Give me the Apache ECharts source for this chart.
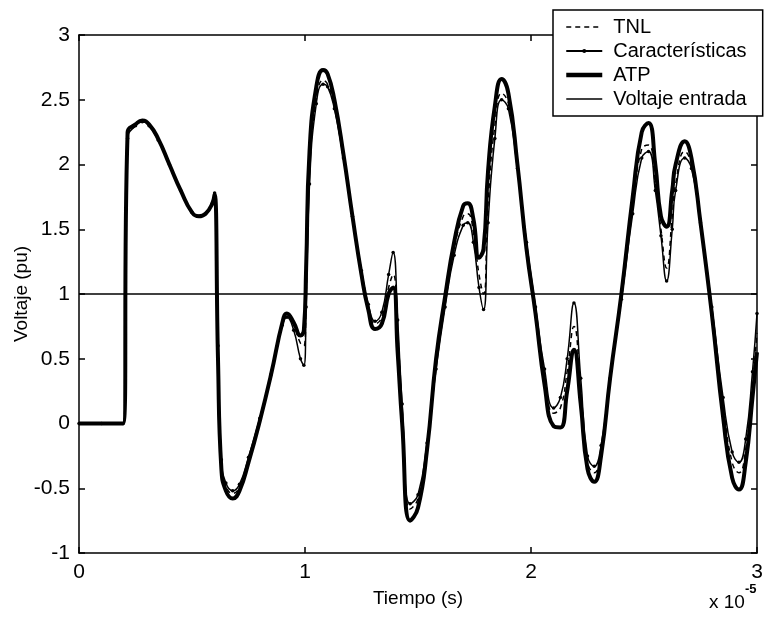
<!DOCTYPE html>
<html>
<head>
<meta charset="utf-8">
<script src="https://cdn.jsdelivr.net/npm/echarts@6/dist/echarts.min.js"></script>
<style>
  html, body { margin: 0; padding: 0; background: #fff; }
  #chart { width: 764px; height: 620px; }
</style>
</head>
<body>
<div id="chart"></div>
<script>
// tiempo en unidades de 1e-5 s
const tiempo = [0, 0.1, 0.195, 0.215, 0.25, 0.28, 0.31, 0.35, 0.4, 0.45, 0.5, 0.53, 0.56, 0.59, 0.6,
  0.615, 0.63, 0.65, 0.68, 0.71, 0.75, 0.8, 0.85, 0.9, 0.92, 0.95, 0.98, 0.995, 1.005, 1.02,
  1.05, 1.08, 1.1, 1.13, 1.17, 1.21, 1.25, 1.28, 1.31, 1.34, 1.37, 1.39, 1.41, 1.43, 1.465,
  1.5, 1.54, 1.58, 1.62, 1.66, 1.7, 1.72, 1.745, 1.77, 1.79, 1.81, 1.84, 1.87, 1.9, 1.94,
  1.98, 2.02, 2.06, 2.1, 2.13, 2.16, 2.19, 2.22, 2.25, 2.28, 2.31, 2.35, 2.4, 2.45, 2.49,
  2.52, 2.55, 2.575, 2.6, 2.625, 2.64, 2.68, 2.71, 2.75, 2.8, 2.85, 2.89, 2.92, 2.95, 2.98, 3.0];

const atp = [0, 0, 0, 2.25, 2.31, 2.34, 2.31, 2.2, 2.0, 1.8, 1.63, 1.6, 1.62, 1.7, 1.77,
  0.5, -0.35, -0.52, -0.58, -0.52, -0.3, 0.02, 0.38, 0.78, 0.85, 0.78, 0.68, 0.72, 1.2, 2.1,
  2.6, 2.73, 2.7, 2.5, 2.08, 1.6, 1.15, 0.88, 0.73, 0.77, 1.0, 1.05, 0.55, 0.0, -0.75,
  -0.65, -0.2, 0.5, 0.98, 1.4, 1.68, 1.7, 1.58, 1.28, 1.35, 1.95, 2.45, 2.66, 2.55, 2.0,
  1.35, 0.85, 0.3, -0.02, -0.03, 0.25, 0.57, 0.15, -0.35, -0.45, -0.25, 0.35, 1.0, 1.75, 2.25,
  2.32, 2.0, 1.6, 1.52, 1.8, 2.0, 2.18, 2.05, 1.55, 0.85, 0.05, -0.42, -0.51, -0.3, 0.2, 0.55];

const tnl = [0, 0, 0, 2.22, 2.3, 2.33, 2.3, 2.2, 2.0, 1.8, 1.63, 1.6, 1.62, 1.7, 1.77,
  0.55, -0.3, -0.48, -0.54, -0.49, -0.28, 0.03, 0.38, 0.77, 0.84, 0.76, 0.62, 0.6, 1.0, 1.95,
  2.5, 2.65, 2.62, 2.45, 2.05, 1.6, 1.17, 0.9, 0.77, 0.82, 1.05, 1.15, 0.7, 0.1, -0.66,
  -0.58, -0.18, 0.45, 0.93, 1.35, 1.6, 1.62, 1.48, 1.15, 1.0, 1.7, 2.3, 2.55, 2.47, 1.98,
  1.38, 0.88, 0.38, 0.08, 0.12, 0.4, 0.75, 0.25, -0.3, -0.38, -0.2, 0.35, 0.98, 1.68, 2.12,
  2.15, 1.85, 1.5, 1.2, 1.6, 1.85, 2.1, 2.0, 1.55, 0.88, 0.15, -0.3, -0.38, -0.2, 0.3, 0.7];

const caracteristicas = [0, 0, 0, 2.2, 2.3, 2.33, 2.3, 2.19, 2.0, 1.8, 1.63, 1.6, 1.62, 1.7, 1.78,
  0.6, -0.28, -0.46, -0.52, -0.47, -0.26, 0.04, 0.38, 0.76, 0.82, 0.72, 0.5, 0.45, 0.9, 1.85,
  2.47, 2.62, 2.6, 2.43, 2.05, 1.6, 1.18, 0.92, 0.79, 0.86, 1.15, 1.32, 0.8, 0.15, -0.62,
  -0.55, -0.15, 0.42, 0.9, 1.3, 1.53, 1.55, 1.4, 1.05, 0.88, 1.55, 2.2, 2.5, 2.43, 1.97,
  1.4, 0.9, 0.42, 0.12, 0.2, 0.5, 0.93, 0.35, -0.25, -0.33, -0.17, 0.35, 0.96, 1.62, 2.05,
  2.1, 1.8, 1.45, 1.1, 1.5, 1.8, 2.05, 1.97, 1.55, 0.9, 0.2, -0.22, -0.3, -0.12, 0.4, 0.85];

const entradaT = [0, 3];
const entrada = [1, 1];

const xTicks = [0, 1, 2, 3];
const yTicks = [-1, -0.5, 0, 0.5, 1, 1.5, 2, 2.5, 3];

const pares = (xs, ys) => xs.map((x, i) => [x, ys[i]]);

const fuente = '"Liberation Sans", Arial, sans-serif';

const ejeComun = {
  type: 'value',
  splitLine: { show: false },
  axisLine: { show: true, onZero: false, lineStyle: { color: '#000', width: 1.5 } },
  axisTick: { show: true, inside: true, length: 6, lineStyle: { color: '#000', width: 1.5 } }
};

const chart = echarts.init(document.getElementById('chart'));

const option = {
  animation: false,
  backgroundColor: '#fff',
  grid: { left: 79, right: 7, top: 35, bottom: 67, containLabel: false, outerBoundsMode: 'none' },
  xAxis: [
    {
      ...ejeComun,
      min: xTicks[0], max: xTicks[xTicks.length - 1], interval: 1,
      name: 'Tiempo (s)', nameLocation: 'middle', nameGap: 36,
      nameTextStyle: { color: '#000', fontSize: 19, fontFamily: fuente },
      axisLabel: { color: '#000', fontSize: 21, fontFamily: fuente, margin: 9 }
    },
    {
      ...ejeComun, position: 'top',
      min: xTicks[0], max: xTicks[xTicks.length - 1], interval: 1,
      axisLabel: { show: false }
    }
  ],
  yAxis: [
    {
      ...ejeComun,
      min: yTicks[0], max: yTicks[yTicks.length - 1], interval: 0.5,
      name: 'Voltaje (pu)', nameLocation: 'middle', nameGap: 48, nameRotate: 90,
      nameMoveOverlap: false,
      nameTextStyle: { color: '#000', fontSize: 19, fontFamily: fuente },
      axisLabel: { color: '#000', fontSize: 21, fontFamily: fuente, margin: 9 }
    },
    {
      ...ejeComun, position: 'right',
      min: yTicks[0], max: yTicks[yTicks.length - 1], interval: 0.5,
      axisLabel: { show: false }
    }
  ],
  legend: {
    orient: 'vertical',
    left: 553,
    top: 10,
    padding: [6, 16, 6, 11],
    itemWidth: 36,
    itemHeight: 5,
    itemGap: 2,
    backgroundColor: '#fff',
    borderColor: '#000',
    borderWidth: 1.5,
    borderRadius: 0,
    textStyle: { color: '#000', fontSize: 20, fontFamily: fuente, lineHeight: 22, padding: [0, 0, 0, 6] },
    data: [
      { name: 'TNL', itemStyle: { opacity: 0 }, lineStyle: { width: 1.5 } },
      { name: 'Características', lineStyle: { width: 2 } },
      { name: 'ATP', itemStyle: { opacity: 0 }, lineStyle: { width: 4.5 } },
      { name: 'Voltaje entrada', itemStyle: { opacity: 0 }, lineStyle: { width: 1.5 } }
    ]
  },
  graphic: [{
    type: 'text',
    left: 709,
    top: 583,
    style: {
      text: '{b|x 10}{s|-5}',
      fill: '#000',
      rich: {
        b: { fontSize: 19, fontFamily: fuente, fill: '#000', padding: [10, 0, 0, 0] },
        s: { fontSize: 13, fontFamily: fuente, fill: '#000', fontWeight: 'bold', verticalAlign: 'top' }
      }
    }
  }],
  series: [
    {
      name: 'TNL', type: 'line', data: pares(tiempo, tnl),
      showSymbol: false, symbol: 'none', smooth: 0.5,
      lineStyle: { color: '#000', width: 1.5, type: [5, 4] },
      itemStyle: { color: '#000' }, z: 3
    },
    {
      name: 'Características', type: 'line', data: pares(tiempo, caracteristicas),
      symbol: 'circle', symbolSize: 3.5, smooth: 0.5,
      lineStyle: { color: '#000', width: 1.5 },
      itemStyle: { color: '#000' }, z: 4
    },
    {
      name: 'ATP', type: 'line', data: pares(tiempo, atp),
      showSymbol: false, symbol: 'none', smooth: 0.5,
      lineStyle: { color: '#000', width: 4 },
      itemStyle: { color: '#000' }, z: 2
    },
    {
      name: 'Voltaje entrada', type: 'line', data: pares(entradaT, entrada),
      showSymbol: false, symbol: 'none',
      lineStyle: { color: '#000', width: 1.5 },
      itemStyle: { color: '#000' }, z: 1
    }
  ]
};

chart.setOption(option);
</script>
</body>
</html>
